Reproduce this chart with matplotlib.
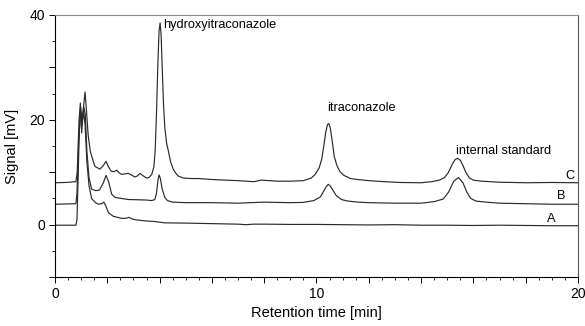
import matplotlib
matplotlib.use('Agg')
import matplotlib.pyplot as plt
from matplotlib.ticker import MultipleLocator, FuncFormatter

plt.rcParams['font.family'] = ['Liberation Sans', 'DejaVu Sans']

# Trace A (blank)
time_a = [0, 0.4, 0.8, 0.84, 0.88, 0.93, 0.99, 1.05, 1.1, 1.15, 1.22, 1.3, 1.4,
          1.55, 1.66, 1.78, 1.87, 1.95, 2.04, 2.23, 2.55, 2.7, 2.83, 2.95, 3.06,
          3.5, 3.82, 4.2, 5.0, 6.0, 7.0, 7.3, 7.6, 8.0, 9.0, 10.0, 11.0, 12.0,
          13.0, 14.0, 15.0, 16.0, 17.0, 18.0, 19.0, 20.0]
signal_a = [-0.1, -0.1, -0.1, 1.0, 8.0, 18.0, 21.5, 20.0, 21.5, 19.0, 12.0, 7.5,
            5.0, 4.2, 3.9, 4.0, 4.3, 3.5, 2.3, 1.6, 1.2, 1.2, 1.4, 1.1, 0.95,
            0.7, 0.6, 0.35, 0.3, 0.2, 0.1, 0.0, 0.1, 0.1, 0.05, 0.05, 0.0,
            -0.05, 0.0, -0.1, -0.1, -0.15, -0.1, -0.15, -0.2, -0.2]

# Trace B
time_b = [0, 0.4, 0.8, 0.84, 0.9, 0.98, 1.04, 1.1, 1.16, 1.22, 1.3, 1.4, 1.55,
          1.7, 1.85, 1.95, 2.05, 2.17, 2.3, 2.55, 2.8, 3.19, 3.5, 3.7, 3.82,
          3.88, 3.94, 3.98, 4.03, 4.1, 4.2, 4.3, 4.5, 5.0, 6.0, 7.0, 8.0, 9.0,
          9.5, 9.9, 10.15, 10.3, 10.38, 10.45, 10.52, 10.6, 10.75, 10.95, 11.2,
          11.6, 12.0, 13.0, 14.0, 14.5, 14.85, 15.05, 15.25, 15.43, 15.6, 15.75,
          15.9, 16.1, 16.5, 17.0, 18.0, 19.0, 20.0]
signal_b = [3.9, 3.95, 4.0, 6.0, 15.0, 22.5, 19.0, 22.5, 21.0, 14.0, 9.0, 6.8,
            6.5, 6.6, 8.0, 9.4, 8.2, 5.8, 5.2, 5.0, 4.8, 4.75, 4.7, 4.6, 4.8,
            6.0, 8.5, 9.5, 8.8, 6.8, 5.2, 4.6, 4.3, 4.2, 4.2, 4.1, 4.3, 4.2,
            4.25, 4.6, 5.3, 6.6, 7.3, 7.7, 7.4, 6.8, 5.6, 4.8, 4.5, 4.3, 4.2,
            4.1, 4.1, 4.4, 4.9, 6.2, 8.3, 9.0, 8.0, 6.2, 5.0, 4.5, 4.3, 4.1,
            4.0, 3.9, 3.9]

# Trace C
time_c = [0, 0.4, 0.8, 0.85, 0.92, 0.97, 1.02, 1.07, 1.15, 1.2, 1.27, 1.35, 1.45,
          1.53, 1.72, 1.85, 1.95, 2.05, 2.15, 2.25, 2.36, 2.45, 2.55, 2.7, 2.8,
          2.95, 3.06, 3.15, 3.25, 3.35, 3.5, 3.6, 3.7, 3.78, 3.83, 3.88, 3.93,
          3.98, 4.02, 4.06, 4.1, 4.15, 4.2, 4.27, 4.33, 4.42, 4.52, 4.62, 4.71,
          4.9, 5.2, 5.5, 6.05, 6.5, 7.0, 7.6, 7.9, 8.5, 9.0, 9.5, 9.8, 9.95,
          10.1, 10.2, 10.28, 10.35, 10.42, 10.47, 10.53, 10.6, 10.68, 10.78,
          10.9, 11.05, 11.3, 11.6, 12.0, 12.6, 13.2, 14.0, 14.4, 14.7, 14.9,
          15.05, 15.2, 15.3, 15.39, 15.5, 15.6, 15.72, 15.85, 16.0, 16.3, 17.0,
          18.0, 19.0, 20.0]
signal_c = [8.0, 8.05, 8.2, 10.0, 20.0, 23.2, 17.5, 21.5, 25.3, 22.0, 17.0, 14.0,
            12.3, 11.1, 10.6, 11.3, 12.1, 11.0, 10.2, 10.1, 10.4, 9.9, 9.6, 9.7,
            9.8, 9.4, 9.1, 9.3, 9.8, 9.4, 8.9, 9.0, 9.6, 11.0, 14.0, 21.0, 30.0,
            37.0, 38.5, 36.0, 30.0, 23.0, 18.5, 15.5, 14.2, 12.0, 10.6, 9.8, 9.3,
            8.9, 8.8, 8.8, 8.6, 8.5, 8.4, 8.2, 8.5, 8.3, 8.3, 8.4, 8.9, 9.6,
            10.8, 12.5, 15.0, 17.5, 19.1, 19.3, 18.4, 16.0, 13.0, 11.3, 10.1,
            9.4, 8.8, 8.6, 8.4, 8.2, 8.05, 8.0, 8.2, 8.5, 9.0, 10.0, 11.6, 12.4,
            12.66, 12.3, 11.3, 9.9, 8.9, 8.5, 8.3, 8.1, 8.0, 8.05, 8.0]

peak_names = ['hydroxyitraconazole', 'itraconazole', 'internal standard']
peak_label_x = [4.13, 10.39, 15.33]
peak_label_y = [38.1, 22.3, 14.0]

trace_names = ['C', 'B', 'A']
trace_label_x = [19.5, 19.18, 18.8]
trace_label_y = [9.3, 5.4, 1.1]

fig = plt.figure(figsize=(5.85, 3.26), dpi=100)
ax = fig.add_axes([0.094, 0.150, 0.894, 0.804])

line_kw = dict(color='#2a2a2a', lw=0.85)
ax.plot(time_a, signal_a, **line_kw)
ax.plot(time_b, signal_b, **line_kw)
ax.plot(time_c, signal_c, **line_kw)

for name, x, y in zip(peak_names, peak_label_x, peak_label_y):
    ax.text(x, y, name, fontsize=9.2, ha='left', va='center')
for name, x, y in zip(trace_names, trace_label_x, trace_label_y):
    ax.text(x, y, name, fontsize=9.2, ha='left', va='center')

ax.set_xlim(0, 20)
ax.set_ylim(-10, 40)

# axis ticks: labels only on 0/10/20 and 0/20/40
ax.xaxis.set_major_locator(MultipleLocator(2))
ax.xaxis.set_minor_locator(MultipleLocator(0.5))
ax.xaxis.set_major_formatter(FuncFormatter(lambda v, p: f'{v:.0f}' if round(v) % 10 == 0 else ''))
ax.yaxis.set_major_locator(MultipleLocator(10))
ax.yaxis.set_minor_locator(MultipleLocator(5))
ax.yaxis.set_major_formatter(FuncFormatter(lambda v, p: f'{v:.0f}' if round(v) % 20 == 0 and v >= 0 else ''))
ax.tick_params(which='major', direction='out', length=4, width=0.7, labelsize=10, pad=3)
ax.tick_params(which='minor', direction='out', length=2, width=0.6)

for sp in ax.spines.values():
    sp.set_linewidth(0.8)
ax.spines['top'].set_color('#888888')
ax.spines['right'].set_color('#555555')

ax.set_xlabel('Retention time [min]', fontsize=10.5, labelpad=4)
ax.set_ylabel('Signal [mV]', fontsize=10.5, labelpad=8)

fig.savefig('out.png', dpi=100)
